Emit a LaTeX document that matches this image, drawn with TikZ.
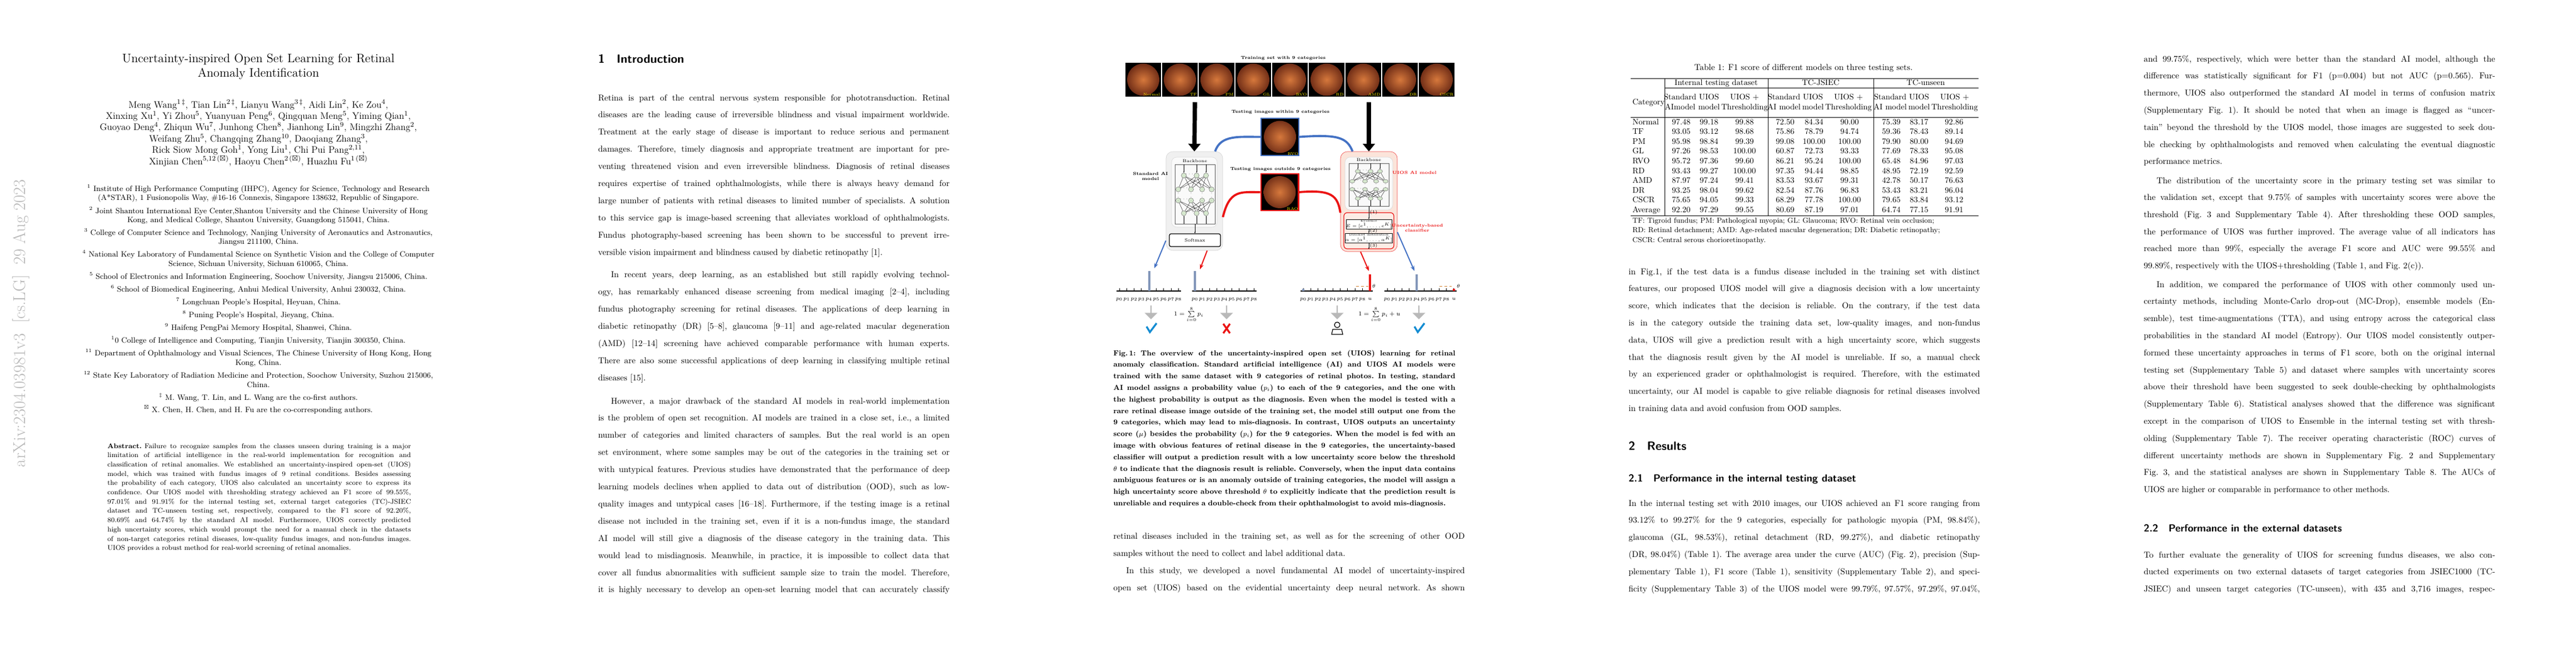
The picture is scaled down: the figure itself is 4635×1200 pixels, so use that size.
\documentclass[tikz,border=0pt]{standalone}
\usepackage{amsmath}
\usepackage{amssymb}
\usetikzlibrary{arrows.meta,positioning,shapes.arrows,calc}

\definecolor{uiosblue}{RGB}{68,114,196}
\definecolor{uiosred}{RGB}{235,20,20}
\definecolor{barblue}{RGB}{130,150,185}
\definecolor{pinkbox}{RGB}{251,228,218}
\definecolor{netgreen}{RGB}{214,232,206}
\definecolor{checkblue}{RGB}{20,140,210}
\definecolor{fundusin}{RGB}{214,120,60}
\definecolor{fundusout}{RGB}{105,40,20}

\newcommand\bodyfont{\fontsize{10}{12}\selectfont\frenchspacing}
\newcommand\jl[2][411pt]{\hbox to #1{\spaceskip=.33em plus 1fil minus .12em\relax#2}}
\newcommand\drawnet{%
  \draw[gray!70!black,line width=.3pt] (-36,0) rectangle (36,107);
  \foreach \a in {-20,3,20} {
    \draw[-{Stealth[length=1.5pt]},line width=.3pt] (\a,0) -- (\a,15);
    \draw[line width=.3pt] (\a,93) -- (\a,107);
    \foreach \b in {-30,-7,13,30} {
      \draw[line width=.25pt] (\a,20) -- (\b,45);
      \draw[line width=.25pt] (\b,65) -- (\a,88);
    }
  }
  \foreach \a in {-20,3,20} {
    \filldraw[fill=netgreen,draw=gray] (\a,20) circle (4.5) (\a,88) circle (4.5);
  }
  \foreach \a in {-30,-7,13,30} {
    \filldraw[fill=netgreen,draw=gray] (\a,45) circle (4.5) (\a,65) circle (4.5);
    \node[font=\fontsize{4}{4}\selectfont,inner sep=0] at (\a,55) {$\vdots$};
  }
  \node[font=\fontsize{4}{4}\selectfont,inner sep=0] at (-9,18) {$\cdots$};
  \node[font=\fontsize{4}{4}\selectfont,inner sep=0] at (-19,43) {$\cdots$};
  \node[font=\fontsize{4}{4}\selectfont,inner sep=0] at (-19,63) {$\cdots$};
  \node[font=\fontsize{4}{4}\selectfont,inner sep=0] at (-9,86) {$\cdots$};
}

\begin{document}
\begin{tikzpicture}[x=0.65pt,y=-0.65pt,
  tx/.style={anchor=base west,inner sep=0pt,font=\bodyfont},
  ct/.style={anchor=base,inner sep=0pt},
  head/.style={anchor=base west,inner sep=0pt,font=\fontsize{14}{14}\selectfont\sffamily\bfseries},
  subhead/.style={anchor=base west,inner sep=0pt,font=\fontsize{12}{12}\selectfont\sffamily\bfseries},
  fundus/.style={fill=black,inner sep=0pt,minimum width=41.6pt,minimum height=39.6pt,
    path picture={\shade[inner color=fundusin,outer color=fundusout]
      (path picture bounding box.center) circle (18.8pt);}},
  flab/.style={anchor=south east,inner sep=1pt,text=yellow,font=\fontsize{4.5}{4.5}\selectfont},
  tiny/.style={inner sep=0pt,font=\fontsize{5}{6}\selectfont,align=center},
  bigarrow/.style={line width=5pt,-{Triangle[length=9pt,width=14pt]}},
  bluecurve/.style={uiosblue,line width=2.5pt},
  redcurve/.style={uiosred,line width=2.5pt},
  outarrow/.style={line width=1.3pt,-{Stealth[length=6pt]}},
  grayarr/.style={single arrow,fill=gray!55,draw=none,minimum height=16pt,minimum width=15pt,
    single arrow head extend=2pt,shape border rotate=270,inner sep=0pt},
  plab/.style={anchor=base,inner sep=0pt,font=\fontsize{6.5}{6.5}\selectfont},
  tcell/.style={anchor=base,inner sep=0pt,font=\fontsize{9.5}{11}\selectfont}]
\useasboundingbox (0,0) rectangle (4635,1200);

% title page
\node[rotate=90,text=gray!55,font=\fontsize{20}{20}\selectfont] (stamp) at (38,582)
  {arXiv:2304.03981v3\ \ [cs.LG]\ \ 29 Aug 2023};
\node[ct,font=\fontsize{14.4}{17}\selectfont] (title1) at (465,112) {Uncertainty-inspired Open Set Learning for Retinal};
\node[ct,font=\fontsize{14.4}{17}\selectfont] (title2) at (465,138) {Anomaly Identification};
\foreach \t [count=\i from 0] in {
  {Meng Wang$^{1\,\ddagger}$, Tian Lin$^{2\,\ddagger}$, Lianyu Wang$^{3\,\ddagger}$, Aidi Lin$^{2}$, Ke Zou$^{4}$,},
  {Xinxing Xu$^{1}$, Yi Zhou$^{5}$, Yuanyuan Peng$^{6}$, Qingquan Meng$^{5}$, Yiming Qian$^{1}$,},
  {Guoyao Deng$^{4}$, Zhiqun Wu$^{7}$, Junhong Chen$^{8}$, Jianhong Lin$^{9}$, Mingzhi Zhang$^{2}$,},
  {Weifang Zhu$^{5}$, Changqing Zhang$^{10}$, Daoqiang Zhang$^{3}$,},
  {Rick Siow Mong Goh$^{1}$, Yong Liu$^{1}$, Chi Pui Pang$^{2,11}$,},
  {Xinjian Chen$^{5,12\,(\boxtimes)}$, Haoyu Chen$^{2\,(\boxtimes)}$, Huazhu Fu$^{1\,(\boxtimes)}$}}
  \node[ct,font=\fontsize{11}{13}\selectfont] (auth\i) at (465,{194+20.4*\i}) {\t};
\foreach \y/\t [count=\i] in {
  344/{$^{1}$ Institute of High Performance Computing (IHPC), Agency for Science, Technology and Research},
  360/{(A*STAR), 1 Fusionopolis Way, \#16-16 Connexis, Singapore 138632, Republic of Singapore.},
  384/{$^{2}$ Joint Shantou International Eye Center,Shantou University and the Chinese University of Hong},
  400/{Kong, and Medical College, Shantou University, Guangdong 515041, China.},
  423/{$^{3}$ College of Computer Science and Technology, Nanjing University of Aeronautics and Astronautics,},
  439/{Jiangsu 211100, China.},
  462/{$^{4}$ National Key Laboratory of Fundamental Science on Synthetic Vision and the College of Computer},
  479/{Science, Sichuan University, Sichuan 610065, China.},
  502/{$^{5}$ School of Electronics and Information Engineering, Soochow University, Jiangsu 215006, China.},
  525/{$^{6}$ School of Biomedical Engineering, Anhui Medical University, Anhui 230032, China.},
  548/{$^{7}$ Longchuan People's Hospital, Heyuan, China.},
  571/{$^{8}$ Puning People's Hospital, Jieyang, China.},
  594/{$^{9}$ Haifeng PengPai Memory Hospital, Shanwei, China.},
  617/{$^{1}$0 College of Intelligence and Computing, Tianjin University, Tianjin 300350, China.},
  640/{$^{11}$ Department of Ophthalmology and Visual Sciences, The Chinese University of Hong Kong, Hong},
  657/{Kong, China.},
  680/{$^{12}$ State Key Laboratory of Radiation Medicine and Protection, Soochow University, Suzhou 215006,},
  697/{China.},
  720/{$^{\ddagger}$ M. Wang, T. Lin, and L. Wang are the co-first authors.},
  742/{$^{\boxtimes}$ X. Chen, H. Chen, and H. Fu are the co-corresponding authors.}}
  \node[ct,font=\fontsize{9}{10}\selectfont] (affil\i) at (465,\y) {\t};
\foreach \t [count=\i from 0] in {
  {\textbf{Abstract.}\hspace{.4em}Failure to recognize samples from the classes unseen during training is a major},
  {limitation of artificial intelligence in the real-world implementation for recognition and},
  {classification of retinal anomalies. We established an uncertainty-inspired open-set (UIOS)},
  {model, which was trained with fundus images of 9 retinal conditions. Besides assessing},
  {the probability of each category, UIOS also calculated an uncertainty score to express its},
  {confidence. Our UIOS model with thresholding strategy achieved an F1 score of 99.55\%,},
  {97.01\% and 91.91\% for the internal testing set, external target categories (TC)-JSIEC},
  {dataset and TC-unseen testing set, respectively, compared to the F1 score of 92.20\%,},
  {80.69\% and 64.74\% by the standard AI model. Furthermore, UIOS correctly predicted},
  {high uncertainty scores, which would prompt the need for a manual check in the datasets},
  {of non-target categories retinal diseases, low-quality fundus images, and non-fundus images.},
  {UIOS provides a robust method for real-world screening of retinal anomalies.\hfill}}
  \node[tx,font=\fontsize{8}{9}\selectfont\frenchspacing] (abs\i) at (193,{807+16.7*\i}) {\jl[355pt]{\t}};

% introduction
\node[head] (intro) at (1076,113) {1\hspace{1em}Introduction};
\foreach \t [count=\i from 0] in {
  {Retina is part of the central nervous system responsible for phototransduction. Retinal},
  {diseases are the leading cause of irreversible blindness and visual impairment worldwide.},
  {Treatment at the early stage of disease is important to reduce serious and permanent},
  {damages. Therefore, timely diagnosis and appropriate treatment are important for pre-},
  {venting threatened vision and even irreversible blindness. Diagnosis of retinal diseases},
  {requires expertise of trained ophthalmologists, while there is always heavy demand for},
  {large number of patients with retinal diseases to limited number of specialists. A solution},
  {to this service gap is image-based screening that alleviates workload of ophthalmologists.},
  {Fundus photography-based screening has been shown to be successful to prevent irre-},
  {versible vision impairment and blindness caused by diabetic retinopathy [1].\hfill}}
  \node[tx] (introa\i) at (1076,{181+30.9*\i}) {\jl{\t}};
\foreach \t [count=\i from 0] in {
  {\hspace*{1.5em}In recent years, deep learning, as an established but still rapidly evolving technol-},
  {ogy, has remarkably enhanced disease screening from medical imaging [2--4], including},
  {fundus photography screening for retinal diseases. The applications of deep learning in},
  {diabetic retinopathy (DR) [5--8], glaucoma [9--11] and age-related macular degeneration},
  {(AMD) [12--14] screening have achieved comparable performance with human experts.},
  {There are also some successful applications of deep learning in classifying multiple retinal},
  {diseases [15].\hfill}}
  \node[tx] (introb\i) at (1076,{499+31*\i}) {\jl{\t}};
\foreach \t [count=\i from 0] in {
  {\hspace*{1.5em}However, a major drawback of the standard AI models in real-world implementation},
  {is the problem of open set recognition. AI models are trained in a close set, i.e., a limited},
  {number of categories and limited characters of samples. But the real world is an open},
  {set environment, where some samples may be out of the categories in the training set or},
  {with untypical features. Previous studies have demonstrated that the performance of deep},
  {learning models declines when applied to data out of distribution (OOD), such as low-},
  {quality images and untypical cases [16--18]. Furthermore, if the testing image is a retinal},
  {disease not included in the training set, even if it is a non-fundus image, the standard},
  {AI model will still give a diagnosis of the disease category in the training data. This},
  {would lead to misdiagnosis. Meanwhile, in practice, it is impossible to collect data that},
  {cover all fundus abnormalities with sufficient sample size to train the model. Therefore,},
  {it is highly necessary to develop an open-set learning model that can accurately classify}}
  \node[tx] (introc\i) at (1076,{727+30.9*\i}) {\jl{\t}};

% figure 1
\node[tiny,font=\fontsize{5}{6}\selectfont\bfseries] (trainlab) at (2309,105) {Training set with 9 categories};
\foreach \lab [count=\i from 0] in {Normal,TF,PM,GL,RVO,RD,AMD,DR,CSCR} {
  \node[fundus] (tr\i) at ({2057+66*\i},143.5) {};
  \node[flab] (trl\i) at (tr\i.south east) {\lab};
}
\node[fill=gray!12,draw=gray!35,rounded corners=8pt,minimum width=66.3pt,minimum height=115.7pt] (std) at (2149,362) {};
\node[fill=gray!4,draw=gray!30,rounded corners=6pt,minimum width=53.3pt,minimum height=81.9pt] (stdbb) at (2149,346) {};
\node[tiny] (stdbblab) at (2150,290) {Backbone};
\begin{scope}[shift={(2150,296)}]
  \drawnet
\end{scope}
\node[draw,line width=.8pt,rounded corners=2pt,fill=white,minimum width=59.8pt,minimum height=15pt,
  font=\fontsize{5.5}{6}\selectfont] (soft) at (2150,432.5) {Softmax};
\draw[-{Stealth[length=2pt]},line width=.4pt] (2150,403) -- (soft.north);
\node[tiny,font=\fontsize{5}{6}\selectfont\bfseries] (stdlab) at (2070,317) {Standard AI\\model};

\node[fill=pinkbox,draw=uiosred!80,rounded corners=8pt,minimum width=66.3pt,minimum height=117pt] (uios) at (2463,363) {};
\node[fill=gray!5,draw=gray!30,rounded corners=6pt,minimum width=55.9pt,minimum height=61.8pt] (uiosbb) at (2463,330.5) {};
\node[tiny] (uiosbblab) at (2463,288) {Backbone};
\begin{scope}[shift={(2463,294)},yscale=0.72]
  \drawnet
\end{scope}
\node[draw=uiosred,line width=.8pt,rounded corners=4pt,fill=pinkbox!70,minimum width=58.5pt,minimum height=42.3pt] (ucls) at (2463,415.5) {};
\node[draw,fill=white,minimum width=50.7pt,minimum height=11pt,inner sep=0pt,align=center,
  font=\fontsize{3.6}{4}\selectfont] (evid) at (2463,403.5) {Evidence\\$E=[e^1,\ldots,e^K]$};
\node[draw,fill=white,minimum width=50.7pt,minimum height=11pt,inner sep=0pt,align=center,
  font=\fontsize{3.6}{4}\selectfont] (diri) at (2463,428.5) {Dirichlet distribution\\$\alpha=[\alpha^1,\ldots,\alpha^K]$};
\draw[-{Stealth[length=2pt]},line width=.4pt] (2463,371) -- node[right,tiny,inner sep=1pt] {(1)} (evid.north);
\draw[-{Stealth[length=2pt]},line width=.4pt] (evid.south) -- node[right,tiny,inner sep=1pt] {(2)} (diri.north);
\draw[-{Stealth[length=2pt]},line width=.4pt] (diri.south) -- node[right,tiny,inner sep=1pt] {(3)} (ucls.south);
\node[tiny,text=uiosred,font=\fontsize{5}{6}\selectfont\bfseries] (uioslab) at (2545,311) {UIOS AI model};
\node[tiny,text=uiosred,font=\fontsize{5}{6}\selectfont\bfseries] (clslab) at (2550,410) {Uncertainty-based\\classifier};

\coordinate (arrA) at (2150,184);
\coordinate (arrB) at (2463,184);
\draw[bigarrow] (arrA) -- (std.north);
\draw[bigarrow] (arrB) -- (uios.north);

\node[tiny,font=\fontsize{5}{6}\selectfont\bfseries] (inlab) at (2304,202) {Testing images within 9 categories};
\node[fundus,draw=uiosblue,line width=1.5pt,minimum width=44pt,minimum height=43.5pt] (tin) at (2303,246.5) {};
\node[flab] (tinl) at (tin.south east) {RVO};
\node[tiny,font=\fontsize{5}{6}\selectfont\bfseries] (outlab) at (2304,305) {Testing images outside 9 categories};
\node[fundus,draw=uiosred,line width=1.5pt,minimum width=44pt,minimum height=43pt] (tout) at (2302.5,346) {};
\node[flab] (toutl) at (tout.south east) {RAO};

\draw[bluecurve] ($(std.north east)+(-14,0)$) .. controls +(10,-30) and +(-40,0) .. (tin.west);
\draw[bluecurve] (tin.east) .. controls +(70,-5) and +(-10,-25) .. ($(uios.north west)+(22,0)$);
\draw[redcurve] ($(std.east)+(0,29)$) .. controls +(12,-50) and +(-35,0) .. (tout.west);
\draw[redcurve] (tout.east) .. controls +(60,-5) and +(-5,-30) .. ($(uios.west)+(0,20)$);

\coordinate (o1) at (2077,483);
\coordinate (o2) at (2159,485);
\coordinate (o3) at (2463,488);
\coordinate (o4) at (2545,488);
\draw[outarrow,uiosblue] ($(std.south west)+(0,-18)$) -- (o1);
\draw[outarrow,uiosred] ($(std.south)+(23,0)$) -- (o2);
\draw[outarrow,uiosred] ($(uios.south)+(-15,0)$) -- (o3);
\draw[outarrow,uiosblue] ($(uios.east)+(0,55)$) -- (o4);

% probability axes
\foreach \xo/\n in {2014/8,2150/8,2345/9,2496/9} {
  \draw[line width=.8pt] ({\xo-5},524) -- ({\xo+13.3*\n+5},524);
  \foreach \k in {0,...,\n} {
    \draw[line width=.6pt] ({\xo+13.3*\k},519) -- ({\xo+13.3*\k},524);
  }
  \foreach \k in {0,...,8} {
    \node[plab] at ({\xo+13.3*\k},540) {$p_{\k}$};
  }
}
\node[plab] (ulab1) at (2465,540) {$u$};
\node[plab] (ulab2) at (2616,540) {$u$};
\fill[barblue] (2066,488) rectangle (2070,524);
\fill[barblue] (2148,488) rectangle (2152,524);
\fill[uiosred] (2463,494) rectangle (2467,524);
\fill[barblue] (2343,520) rectangle (2347,524);
\fill[barblue] (2547,494) rectangle (2551,524);
\fill[uiosred] (2614,520) rectangle (2618,524);
\draw[dashed,brown!70!orange,line width=.6pt] (2440,515) -- (2462,515);
\draw[dashed,brown!70!orange,line width=.6pt] (2590,515) -- (2612,515);
\node[plab] (th1) at (2472,518) {$\theta$};
\node[plab] (th2) at (2624,518) {$\theta$};

\foreach \x [count=\i] in {2071,2207,2406,2553}
  \node[grayarr] (g\i) at (\x,562) {};
\node[inner sep=0pt,font=\fontsize{7}{7}\selectfont] (sum1) at (2139,566) {$1=\sum\limits_{i=0}^{8}p_i$};
\node[inner sep=0pt,font=\fontsize{7}{7}\selectfont] (sum2) at (2482,566) {$1=\sum\limits_{i=0}^{8}p_i+u$};
\draw[checkblue,line width=2.2pt] (2063,588) -- (2069,598) -- (2081,582);
\draw[checkblue,line width=2.2pt] (2545,588) -- (2551,598) -- (2563,582);
\draw[uiosred,line width=2.2pt] (2201,583) -- (2213,600) (2213,583) -- (2201,600);
\draw[line width=.8pt] (2406,585) circle (5);
\draw[line width=.8pt] (2396,602) -- (2398,593) -- (2414,593) -- (2416,602) -- cycle;
\draw[line width=.6pt] (2403,580) -- (2409,580);

% caption of fig 1
\foreach \t [count=\i from 0] in {
  {Fig.\,1: The overview of the uncertainty-inspired open set (UIOS) learning for retinal},
  {anomaly classification. Standard artificial intelligence (AI) and UIOS AI models were},
  {trained with the same dataset with 9 categories of retinal photos. In testing, standard},
  {AI model assigns a probability value ($p_i$) to each of the 9 categories, and the one with},
  {the highest probability is output as the diagnosis. Even when the model is tested with a},
  {rare retinal disease image outside of the training set, the model still output one from the},
  {9 categories, which may lead to mis-diagnosis. In contrast, UIOS outputs an uncertainty},
  {score ($\mu$) besides the probability ($p_i$) for the 9 categories. When the model is fed with an},
  {image with obvious features of retinal disease in the 9 categories, the uncertainty-based},
  {classifier will output a prediction result with a low uncertainty score below the threshold},
  {$\theta$ to indicate that the diagnosis result is reliable. Conversely, when the input data contains},
  {ambiguous features or is an anomaly outside of training categories, the model will assign a},
  {high uncertainty score above threshold $\theta$ to explicitly indicate that the prediction result is},
  {unreliable and requires a double-check from their ophthalmologist to avoid mis-diagnosis.\hfill}}
  \node[tx,font=\fontsize{8.5}{10}\selectfont\bfseries\frenchspacing] (cap\i) at (2003,{640+20.8*\i}) {\jl[400pt]{\t}};
\foreach \t [count=\i from 0] in {
  {retinal diseases included in the training set, as well as for the screening of other OOD},
  {samples without the need to collect and label additional data.\hfill},
  {\hspace*{1.5em}In this study, we developed a novel fundamental AI model of uncertainty-inspired},
  {open set (UIOS) based on the evidential uncertainty deep neural network. As shown}}
  \node[tx] (figtxt\i) at (2003,{970+31*\i}) {\jl{\t}};

% table 1
\node[ct,font=\fontsize{10}{12}\selectfont] (tabcap) at (3245,126) {Table 1: F1 score of different models on three testing sets.};
\draw[line width=.6pt] (2934,141) -- (3560,141);
\draw[line width=.4pt] (2995,158) -- (3560,158);
\draw[line width=.4pt] (2934,211) -- (3560,211);
\draw[line width=.6pt] (2934,388) -- (3560,388);
\foreach \x in {2995,3181,3371}
  \draw[line width=.4pt] (\x,141) -- (\x,388);
\node[tcell] (grp1) at (3088,153) {Internal testing dataset};
\node[tcell] (grp2) at (3276,153) {TC-JSIEC};
\node[tcell] (grp3) at (3465,153) {TC-unseen};
\node[tcell,anchor=base west] (catlab) at (2937,188) {Category};
\foreach \o/\s [count=\g] in {0/AImodel,187/AI model,378/AI model} {
  \node[tcell] (sh\g a) at ({3023+\o},179) {Standard};
  \node[tcell] (sh\g b) at ({3023+\o},197) {\s};
  \node[tcell] (sh\g c) at ({3075+\o},179) {UIOS};
  \node[tcell] (sh\g d) at ({3075+\o},197) {model};
  \node[tcell] (sh\g e) at ({3139+\o},179) {UIOS +};
  \node[tcell] (sh\g f) at ({3139+\o},197) {Thresholding};
}
\foreach \c/\a/\b/\d/\e/\f/\h/\p/\q/\s [count=\r from 0] in {
  Normal/97.48/99.18/99.88/72.50/84.34/90.00/75.39/83.17/92.86,
  TF/93.05/93.12/98.68/75.86/78.79/94.74/59.36/78.43/89.14,
  PM/95.98/98.84/99.39/99.08/100.00/100.00/79.90/80.00/94.69,
  GL/97.26/98.53/100.00/60.87/72.73/93.33/77.69/78.33/95.08,
  RVO/95.72/97.36/99.60/86.21/95.24/100.00/65.48/84.96/97.03,
  RD/93.43/99.27/100.00/97.35/94.44/98.85/48.95/72.19/92.59,
  AMD/87.97/97.24/99.41/83.53/93.67/99.31/42.78/50.17/76.63,
  DR/93.25/98.04/99.62/82.54/87.76/96.83/53.43/83.21/96.04,
  CSCR/75.65/94.05/99.33/68.29/77.78/100.00/79.65/83.84/93.12,
  Average/92.20/97.29/99.55/80.69/87.19/97.01/64.74/77.15/91.91} {
  \node[tcell,anchor=base west] (row\r) at (2937,{224+17.6*\r}) {\c};
  \node[tcell] (c\r-1) at (3025,{224+17.6*\r}) {\a};
  \node[tcell] (c\r-2) at (3075,{224+17.6*\r}) {\b};
  \node[tcell] (c\r-3) at (3139,{224+17.6*\r}) {\d};
  \node[tcell] (c\r-4) at (3212,{224+17.6*\r}) {\e};
  \node[tcell] (c\r-5) at (3264,{224+17.6*\r}) {\f};
  \node[tcell] (c\r-6) at (3328,{224+17.6*\r}) {\h};
  \node[tcell] (c\r-7) at (3403,{224+17.6*\r}) {\p};
  \node[tcell] (c\r-8) at (3453,{224+17.6*\r}) {\q};
  \node[tcell] (c\r-9) at (3516,{224+17.6*\r}) {\s};
}
\foreach \t [count=\i from 0] in {
  {TF: Tigroid fundus; PM: Pathological myopia; GL: Glaucoma; RVO: Retinal vein occlusion;},
  {RD: Retinal detachment; AMD: Age-related macular degeneration; DR: Diabetic retinopathy;},
  {CSCR: Central serous chorioretinopathy.}}
  \node[tx,font=\fontsize{8.5}{10}\selectfont] (tabnote\i) at (2937,{401+17.6*\i}) {\t};

\foreach \t [count=\i from 0] in {
  {in Fig.1, if the test data is a fundus disease included in the training set with distinct},
  {features, our proposed UIOS model will give a diagnosis decision with a low uncertainty},
  {score, which indicates that the decision is reliable. On the contrary, if the test data},
  {is in the category outside the training data set, low-quality images, and non-fundus},
  {data, UIOS will give a prediction result with a high uncertainty score, which suggests},
  {that the diagnosis result given by the AI model is unreliable. If so, a manual check},
  {by an experienced grader or ophthalmologist is required. Therefore, with the estimated},
  {uncertainty, our AI model is capable to give reliable diagnosis for retinal diseases involved},
  {in training data and avoid confusion from OOD samples.\hfill}}
  \node[tx] (tabtxt\i) at (2930,{494+30.8*\i}) {\jl{\t}};
\node[head] (results) at (2930,810) {2\hspace{1em}Results};
\node[subhead] (res21) at (2930,867) {2.1\hspace{1em}Performance in the internal testing dataset};
\foreach \t [count=\i from 0] in {
  {In the internal testing set with 2010 images, our UIOS achieved an F1 score ranging from},
  {93.12\% to 99.27\% for the 9 categories, especially for pathologic myopia (PM, 98.84\%),},
  {glaucoma (GL, 98.53\%), retinal detachment (RD, 99.27\%), and diabetic retinopathy},
  {(DR, 98.04\%) (Table 1). The average area under the curve (AUC) (Fig. 2), precision (Sup-},
  {plementary Table 1), F1 score (Table 1), sensitivity (Supplementary Table 2), and speci-},
  {ficity (Supplementary Table 3) of the UIOS model were 99.79\%, 97.57\%, 97.29\%, 97.04\%,}}
  \node[tx] (restxt\i) at (2930,{911+30.8*\i}) {\jl{\t}};

% last column
\foreach \t [count=\i from 0] in {
  {and 99.75\%, respectively, which were better than the standard AI model, although the},
  {difference was statistically significant for F1 (p=0.004) but not AUC (p=0.565). Fur-},
  {thermore, UIOS also outperformed the standard AI model in terms of confusion matrix},
  {(Supplementary Fig. 1). It should be noted that when an image is flagged as ``uncer-},
  {tain'' beyond the threshold by the UIOS model, those images are suggested to seek dou-},
  {ble checking by ophthalmologists and removed when calculating the eventual diagnostic},
  {performance metrics.\hfill}}
  \node[tx] (lasta\i) at (3857,{111+30.8*\i}) {\jl{\t}};
\foreach \t [count=\i from 0] in {
  {\hspace*{1.5em}The distribution of the uncertainty score in the primary testing set was similar to},
  {the validation set, except that 9.75\% of samples with uncertainty scores were above the},
  {threshold (Fig. 3 and Supplementary Table 4). After thresholding these OOD samples,},
  {the performance of UIOS was further improved. The average value of all indicators has},
  {reached more than 99\%, especially the average F1 score and AUC were 99.55\% and},
  {99.89\%, respectively with the UIOS+thresholding (Table 1, and Fig. 2(c)).\hfill}}
  \node[tx] (lastb\i) at (3857,{330+30.7*\i}) {\jl{\t}};
\foreach \t [count=\i from 0] in {
  {\hspace*{1.5em}In addition, we compared the performance of UIOS with other commonly used un-},
  {certainty methods, including Monte-Carlo drop-out (MC-Drop), ensemble models (En-},
  {semble), test time-augmentations (TTA), and using entropy across the categorical class},
  {probabilities in the standard AI model (Entropy). Our UIOS model consistently outper-},
  {formed these uncertainty approaches in terms of F1 score, both on the original internal},
  {testing set (Supplementary Table 5) and dataset where samples with uncertainty scores},
  {above their threshold have been suggested to seek double-checking by ophthalmologists},
  {(Supplementary Table 6). Statistical analyses showed that the difference was significant},
  {except in the comparison of UIOS to Ensemble in the internal testing set with thresh-},
  {olding (Supplementary Table 7). The receiver operating characteristic (ROC) curves of},
  {different uncertainty methods are shown in Supplementary Fig. 2 and Supplementary},
  {Fig. 3, and the statistical analyses are shown in Supplementary Table 8. The AUCs of},
  {UIOS are higher or comparable in performance to other methods.\hfill}}
  \node[tx] (lastc\i) at (3857,{517+30.8*\i}) {\jl{\t}};
\node[subhead] (res22) at (3857,957) {2.2\hspace{1em}Performance in the external datasets};
\foreach \t [count=\i from 0] in {
  {To further evaluate the generality of UIOS for screening fundus diseases, we also con-},
  {ducted experiments on two external datasets of target categories from JSIEC1000 (TC-},
  {JSIEC) and unseen target categories (TC-unseen), with 435 and 3,716 images, respec-}}
  \node[tx] (lastd\i) at (3857,{1004+30.8*\i}) {\jl{\t}};
\end{tikzpicture}
\end{document}
